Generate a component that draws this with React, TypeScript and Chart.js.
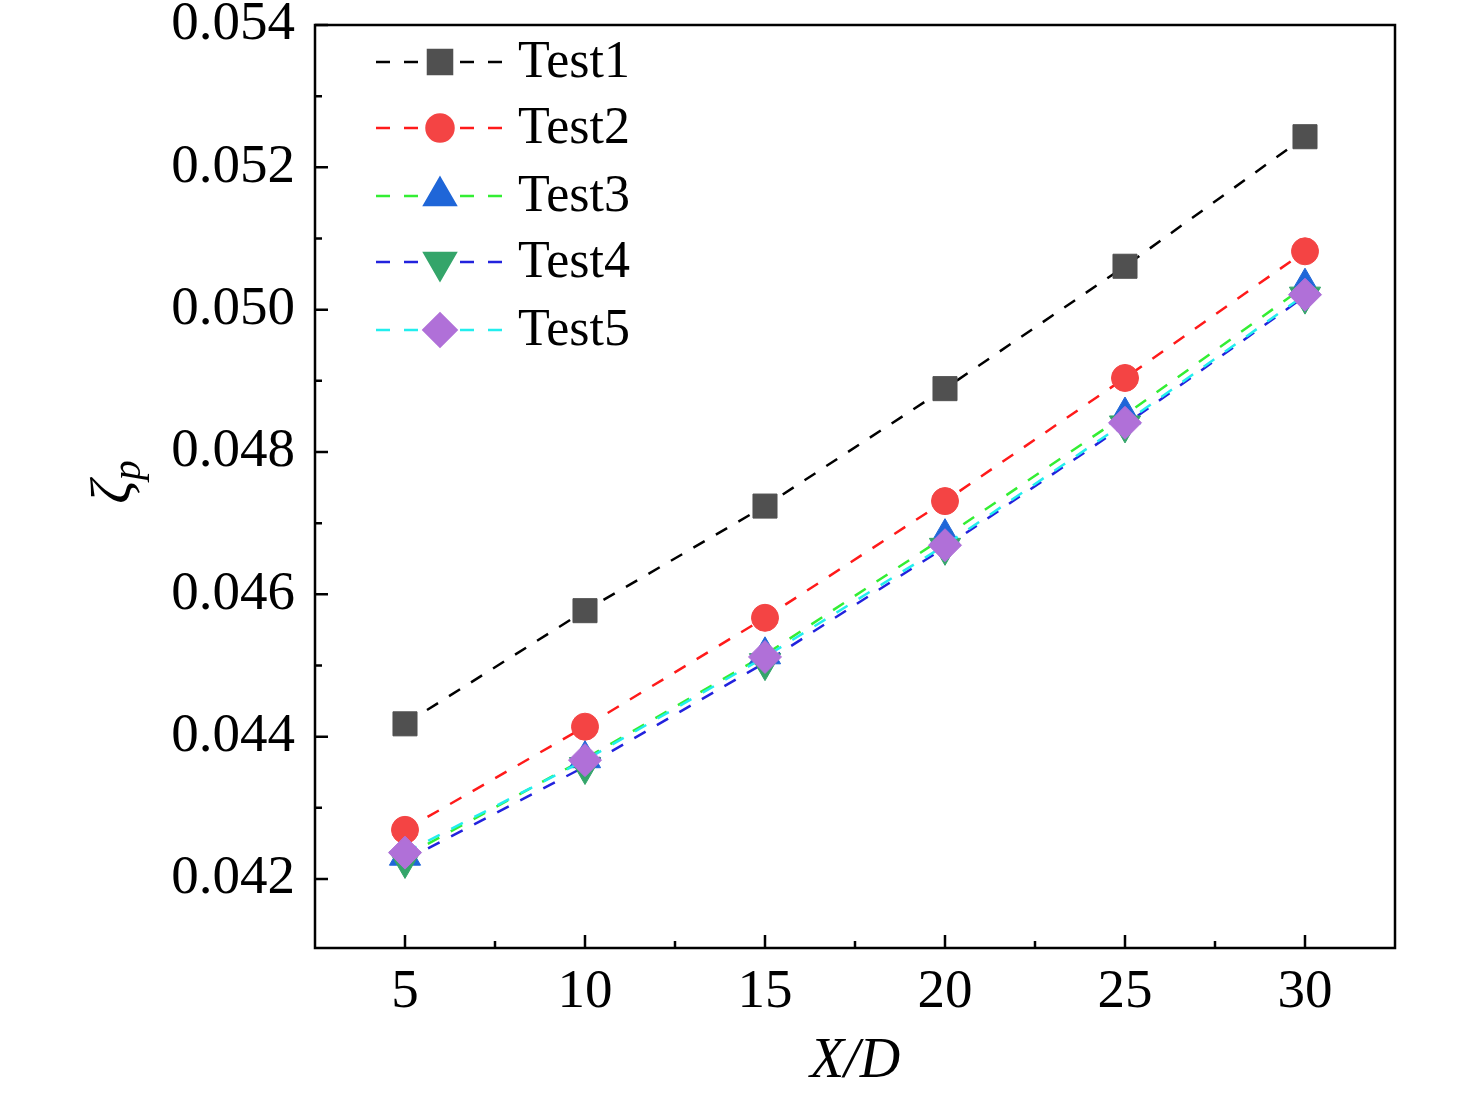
import React, { useEffect, useRef } from "react";
import { Chart, registerables } from "chart.js";
import { drawPoint } from "chart.js/helpers";

Chart.register(...registerables);

const xValues = [5, 10, 15, 20, 25, 30];
const test1 = [0.04418, 0.04577, 0.04724, 0.04889, 0.05061, 0.05243];
const test2 = [0.04269, 0.04414, 0.04567, 0.04731, 0.04904, 0.05082];
const test3 = [0.04232, 0.04369, 0.04515, 0.04681, 0.04852, 0.05033];
const test4 = [0.04226, 0.04358, 0.04504, 0.04666, 0.04838, 0.05019];
const test5 = [0.04237, 0.04367, 0.04512, 0.04669, 0.04841, 0.05021];
const seriesLabels = ["Test1", "Test2", "Test3", "Test4", "Test5"];

const xMajorTicks = [5, 10, 15, 20, 25, 30];
const xMinorTicks = [7.5, 12.5, 17.5, 22.5, 27.5];
const yMajorTicks = [0.042, 0.044, 0.046, 0.048, 0.05, 0.052, 0.054];
const yMinorTicks = [0.043, 0.045, 0.047, 0.049, 0.051, 0.053];

const FONT = "'Liberation Serif', 'Times New Roman', serif";

const styles = [
  { line: "#000000", fill: "#505050", pointStyle: "rect", radius: 17, rotation: 0 },
  { line: "#ff1a1a", fill: "#f44444", pointStyle: "circle", radius: 13.5, rotation: 0 },
  { line: "#33ee33", fill: "#1f66d8", pointStyle: "triangle", radius: 18, rotation: 0 },
  { line: "#2222dd", fill: "#34a56a", pointStyle: "triangle", radius: 18, rotation: 180 },
  { line: "#22eeee", fill: "#b070d8", pointStyle: "rectRot", radius: 16.5, rotation: 0 },
];

const seriesData = [test1, test2, test3, test4, test5];

const decorPlugin = {
  id: "decor",
  afterDatasetsDraw(chart: any) {
    const ctx = chart.ctx;
    const { left, right, top, bottom } = chart.chartArea;
    const xs = chart.scales.x;
    const ys = chart.scales.y;
    ctx.save();
    ctx.strokeStyle = "#000";
    ctx.lineWidth = 2.5;
    ctx.beginPath();
    xMajorTicks.forEach((v) => {
      const px = xs.getPixelForValue(v);
      ctx.moveTo(px, bottom);
      ctx.lineTo(px, bottom - 13);
    });
    xMinorTicks.forEach((v) => {
      const px = xs.getPixelForValue(v);
      ctx.moveTo(px, bottom);
      ctx.lineTo(px, bottom - 7);
    });
    yMajorTicks.forEach((v) => {
      const py = ys.getPixelForValue(v);
      ctx.moveTo(left, py);
      ctx.lineTo(left + 13, py);
    });
    yMinorTicks.forEach((v) => {
      const py = ys.getPixelForValue(v);
      ctx.moveTo(left, py);
      ctx.lineTo(left + 7, py);
    });
    ctx.stroke();
    ctx.lineWidth = 2.5;
    ctx.strokeRect(left, top, right - left, bottom - top);

    const rowY = [62, 128, 196, 262, 330];
    chart.data.datasets.forEach((ds: any, i: number) => {
      const st = styles[i];
      const y = rowY[i];
      ctx.save();
      ctx.strokeStyle = st.line;
      ctx.lineWidth = 2.5;
      ctx.setLineDash([14, 14]);
      ctx.beginPath();
      ctx.moveTo(376, y);
      ctx.lineTo(502, y);
      ctx.stroke();
      ctx.setLineDash([]);
      ctx.fillStyle = st.fill;
      ctx.strokeStyle = st.fill;
      drawPoint(ctx, { pointStyle: st.pointStyle, rotation: st.rotation, radius: st.radius, borderWidth: 1 }, 440, y);
      ctx.restore();
      ctx.fillStyle = "#000";
      ctx.font = `52px ${FONT}`;
      ctx.textBaseline = "middle";
      ctx.textAlign = "left";
      ctx.fillText(ds.label, 518, y + 1);
    });

    ctx.fillStyle = "#000";
    ctx.font = `italic 56px ${FONT}`;
    ctx.textAlign = "center";
    ctx.textBaseline = "middle";
    ctx.fillText("X/D", (left + right) / 2, 1062);

    ctx.save();
    ctx.translate(118, 482);
    ctx.rotate(-Math.PI / 2);
    ctx.font = `italic 58px ${FONT}`;
    ctx.textAlign = "left";
    ctx.textBaseline = "alphabetic";
    const zw = ctx.measureText("ζ").width;
    ctx.font = `italic 40px ${FONT}`;
    const pw = ctx.measureText("p").width;
    const total = zw + pw;
    ctx.font = `italic 58px ${FONT}`;
    ctx.fillText("ζ", -total / 2, 12);
    ctx.font = `italic 40px ${FONT}`;
    ctx.fillText("p", -total / 2 + zw, 22);
    ctx.restore();

    ctx.restore();
  },
};

export default function App() {
  const ref = useRef<HTMLCanvasElement | null>(null);
  useEffect(() => {
    if (!ref.current) return;
    const datasets = seriesData.map((vals, i) => ({
      label: seriesLabels[i],
      data: xValues.map((x, j) => ({ x, y: vals[j] })),
      borderColor: styles[i].line,
      borderWidth: 2.5,
      borderDash: [13, 13],
      backgroundColor: styles[i].fill,
      pointBackgroundColor: styles[i].fill,
      pointBorderColor: styles[i].fill,
      pointBorderWidth: 1,
      pointStyle: styles[i].pointStyle,
      pointRotation: styles[i].rotation,
      pointRadius: styles[i].radius,
      showLine: true,
      fill: false,
      tension: 0,
      order: 5 - i,
    }));
    const chart = new Chart(ref.current, {
      type: "line",
      data: { datasets },
      plugins: [decorPlugin],
      options: {
        animation: false,
        responsive: false,
        devicePixelRatio: 1,
        layout: { padding: { left: 0, top: 25, right: 81, bottom: 0 } },
        plugins: { legend: { display: false }, tooltip: { enabled: false } },
        scales: {
          x: {
            type: "linear",
            min: 2.5,
            max: 32.5,
            grid: { display: false, drawTicks: false },
            border: { display: false },
            afterFit: (s: any) => {
              s.height = 150;
              s.paddingLeft = 0;
              s.paddingRight = 0;
            },
            afterBuildTicks: (s: any) => {
              s.ticks = xMajorTicks.map((v) => ({ value: v }));
            },
            ticks: {
              padding: 12,
              color: "#000",
              font: { family: FONT, size: 55 },
              maxRotation: 0,
              autoSkip: false,
              callback: (v: any) => String(v),
            },
          },
          y: {
            type: "linear",
            min: 0.04103,
            max: 0.054,
            grid: { display: false, drawTicks: false },
            border: { display: false },
            afterFit: (s: any) => {
              s.width = 315;
              s.paddingTop = 0;
              s.paddingBottom = 0;
            },
            afterBuildTicks: (s: any) => {
              s.ticks = yMajorTicks.map((v) => ({ value: v }));
            },
            ticks: {
              padding: 20,
              color: "#000",
              font: { family: FONT, size: 55 },
              autoSkip: false,
              callback: (v: any) => Number(v).toFixed(3),
            },
          },
        },
      },
    });
    return () => chart.destroy();
  }, []);
  return (
    <div style={{ position: "absolute", left: 0, top: 0, width: 1476, height: 1098, background: "#fff" }}>
      <canvas ref={ref} width={1476} height={1098} style={{ display: "block" }} />
    </div>
  );
}
